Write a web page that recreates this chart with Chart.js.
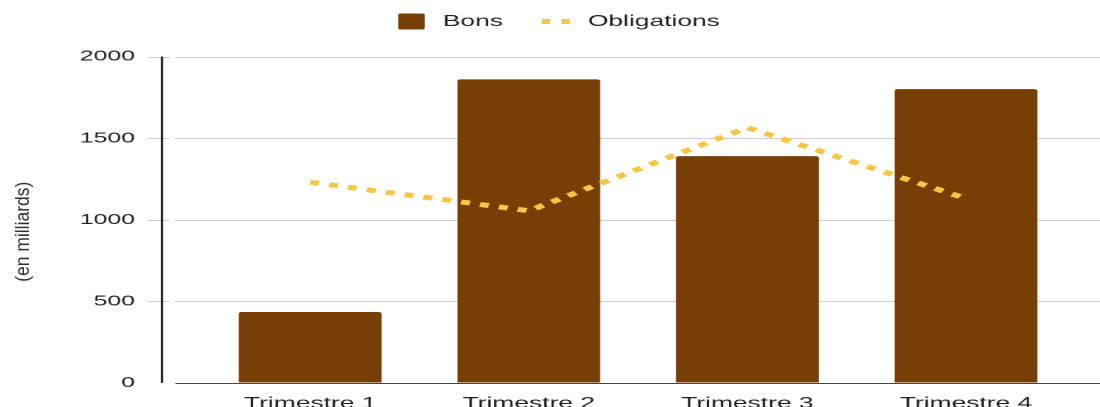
<!DOCTYPE html>
<html>
<head>
<meta charset="utf-8">
<title>Bons et Obligations</title>
<script src="https://cdn.jsdelivr.net/npm/chart.js@4.4.0/dist/chart.umd.min.js"></script>
<style>
  html, body { margin: 0; padding: 0; background: #fff; overflow: hidden; }
  /* le graphique d'origine est étiré horizontalement */
  #wrap { width: 667px; height: 407px; transform: scaleX(1.6492); transform-origin: 0 0; }
  canvas { display: block; }
</style>
</head>
<body>
<div id="wrap"><canvas id="chart" width="667" height="407"></canvas></div>
<script>
// --- données ---
const categories = ['Trimestre 1', 'Trimestre 2', 'Trimestre 3', 'Trimestre 4'];
const bonsValues = [435, 1860, 1390, 1800];
const obligationsValues = [1230, 1055, 1565, 1130];
const yTicks = [0, 500, 1000, 1500, 2000];
const seriesNames = ['Bons', 'Obligations'];
const yTitle = '(en milliards)';

const BROWN = '#783f04';
const YELLOW = '#f6c745';
const FONT = "'Liberation Sans', Arial, sans-serif";

Chart.defaults.font.family = FONT;
Chart.defaults.color = '#222';

// lignes de grille et axes dessinés au-delà de la zone du graphique
const axisLines = {
  id: 'axisLines',
  beforeDatasetsDraw(chart) {
    const { ctx, chartArea, scales: { y } } = chart;
    const left = chartArea.left;
    ctx.save();
    ctx.lineWidth = 1;
    ctx.strokeStyle = '#cccccc';
    y.ticks.forEach(t => {
      if (t.value === 0) return;
      const py = Math.round(y.getPixelForValue(t.value)) + 0.5;
      ctx.beginPath();
      ctx.moveTo(left - 32, py);
      ctx.lineTo(left - 19, py);
      ctx.moveTo(left - 15.5, py);
      ctx.lineTo(chart.width, py);
      ctx.stroke();
    });
    // axe vertical
    ctx.strokeStyle = '#111';
    ctx.lineWidth = 1.3;
    ctx.beginPath();
    ctx.moveTo(left - 23.6, y.getPixelForValue(yTicks[yTicks.length - 1]));
    ctx.lineTo(left - 23.6, y.getPixelForValue(0));
    ctx.stroke();
    ctx.restore();
  },
  afterDatasetsDraw(chart) {
    const { ctx, chartArea, scales: { y } } = chart;
    const py = Math.round(y.getPixelForValue(0)) + 0.5;
    ctx.save();
    ctx.strokeStyle = '#444';
    ctx.lineWidth = 1;
    ctx.beginPath();
    ctx.moveTo(chartArea.left - 15.5, py);
    ctx.lineTo(chart.width, py);
    ctx.stroke();
    ctx.restore();
  }
};

// titre de l'axe vertical (non étiré, comme dans l'original)
const yAxisTitle = {
  id: 'yAxisTitle',
  afterDraw(chart) {
    const { ctx, scales: { y } } = chart;
    ctx.save();
    ctx.translate(14, (y.top + y.bottom) / 2 + 12);
    ctx.rotate(-Math.PI / 2);
    ctx.scale(1, 0.68);
    ctx.font = '17.5px ' + FONT;
    ctx.fillStyle = '#333';
    ctx.textAlign = 'center';
    ctx.textBaseline = 'middle';
    ctx.fillText(yTitle, 0, 0);
    ctx.restore();
  }
};

// légende en haut, dessinée à partir des jeux de données
const topLegend = {
  id: 'topLegend',
  afterDraw(chart) {
    const ctx = chart.ctx;
    const ds = chart.data.datasets;
    ctx.save();
    ctx.font = '16px ' + FONT;
    ctx.textBaseline = 'middle';
    const markW = 18, markGap = 10, itemGap = 23.5;
    const widths = ds.map(d => markW + markGap + ctx.measureText(d.label).width);
    const total = widths.reduce((a, b) => a + b, 0) + itemGap * (ds.length - 1);
    let x = chart.width / 2 - total / 2 + 5;
    const cy = 21.5;
    ds.forEach((d, i) => {
      if (d.type === 'line') {
        ctx.strokeStyle = d.borderColor;
        ctx.lineWidth = 5;
        ctx.setLineDash([5, 7]);
        ctx.beginPath();
        ctx.moveTo(x, cy);
        ctx.lineTo(x + markW, cy);
        ctx.stroke();
        ctx.setLineDash([]);
      } else {
        ctx.fillStyle = d.backgroundColor;
        ctx.beginPath();
        ctx.roundRect(x + 1, cy - 8, 16, 16, 1.5);
        ctx.fill();
      }
      ctx.fillStyle = '#222';
      ctx.fillText(d.label, x + markW + markGap, cy);
      x += widths[i] + itemGap;
    });
    ctx.restore();
  }
};

const ctx = document.getElementById('chart').getContext('2d');
const chart = new Chart(ctx, {
  data: {
    labels: categories,
    datasets: [
      {
        type: 'bar',
        label: seriesNames[0],
        data: bonsValues,
        backgroundColor: BROWN,
        borderRadius: 2,
        borderSkipped: 'start',
        categoryPercentage: 1,
        barPercentage: 0.653,
        order: 1
      },
      {
        type: 'line',
        label: seriesNames[1],
        data: obligationsValues,
        borderColor: YELLOW,
        backgroundColor: YELLOW,
        borderWidth: 5,
        borderDash: [5.5, 6.2],
        borderCapStyle: 'butt',
        tension: 0,
        pointRadius: 0,
        pointHoverRadius: 0,
        fill: false,
        order: 0
      }
    ]
  },
  options: {
    responsive: false,
    devicePixelRatio: 2,
    animation: false,
    layout: { padding: { top: 56.5, left: 0, right: 15, bottom: 0 } },
    plugins: {
      tooltip: { enabled: false },
      legend: { display: false }
    },
    scales: {
      x: {
        type: 'category',
        offset: true,
        grid: { display: false },
        border: { display: false },
        ticks: { padding: 3, font: { size: 16 }, color: '#222', maxRotation: 0 },
        afterFit(scale) { scale.height = 24; }
      },
      y: {
        min: yTicks[0],
        max: yTicks[yTicks.length - 1],
        // les repères servent seulement à décaler les libellés
        grid: { display: true, drawOnChartArea: false, drawTicks: true, tickLength: 32, tickColor: 'rgba(0,0,0,0)', color: 'rgba(0,0,0,0)' },
        border: { display: false },
        ticks: {
          stepSize: 500,
          padding: 8,
          font: { size: 15 },
          color: '#222',
          callback: v => String(v)
        },
        afterBuildTicks(scale) { scale.ticks = yTicks.map(v => ({ value: v })); },
        title: { display: false },
        afterFit(scale) { scale.width = 121.8; }
      }
    }
  },
  plugins: [axisLines, yAxisTitle, topLegend]
});
</script>
</body>
</html>
